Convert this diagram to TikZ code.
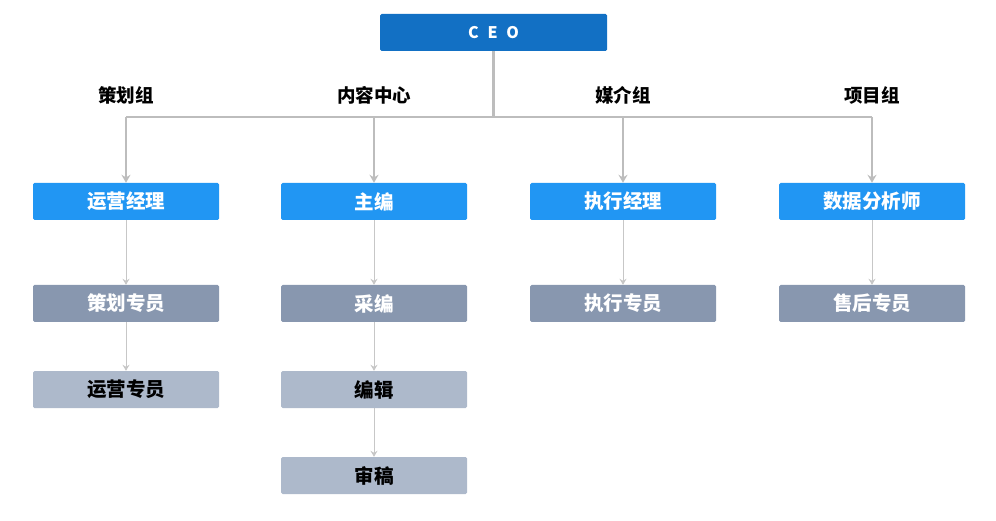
\documentclass[tikz,border=0pt]{standalone}
\usepackage{fontspec}
\setmainfont{Noto Sans CJK SC}
\usetikzlibrary{arrows.meta}
\definecolor{ceoblue}{HTML}{1270C4}
\definecolor{mgrblue}{HTML}{2196F3}
\definecolor{staffgrey}{HTML}{8897AF}
\definecolor{juniorgrey}{HTML}{ADB9CB}
\definecolor{linegrey}{HTML}{BDBDBD}

\begin{document}
\begin{tikzpicture}[x=1pt, y=-1pt,
    box/.style={minimum width=186pt, minimum height=37pt, inner sep=0pt, rounded corners=1.5pt, font=\bfseries\fontsize{19.5}{19.5}\selectfont},
    mgr/.style={box, fill=mgrblue, text=white},
    staff/.style={box, fill=staffgrey, text=white},
    junior/.style={box, fill=juniorgrey, text=black},
    grp/.style={font=\bfseries\fontsize{18.5}{18.5}\selectfont},
    bus/.style={draw=linegrey, line width=2.5pt},
    link/.style={draw=linegrey!85, line width=1pt, -{Stealth[length=6pt,width=7pt]}}]
                \useasboundingbox (0,0) rectangle (996,521);
                \node[box, minimum width=227pt, fill=ceoblue, text=white, font=\bfseries\fontsize{16}{16}\selectfont] (CEO) at (493.5,32.5) {C\hspace{0.55em}E\hspace{0.55em}O};
                \coordinate (T) at (493.5,117);
                \draw[bus] (CEO.south) -- (T);
                % groups and their managers
                \foreach \i/\x/\g/\m in {1/126/策划组/运营经理, 2/374/内容中心/主编, 3/623/媒介组/执行经理, 4/872/项目组/数据分析师} {
                    \node[grp] (G\i) at (\x,95) {\g};
                    \coordinate (B\i) at (\x,117);
                    \node[mgr] (M\i) at (\x,201.5) {\m};
                    \draw[bus, -{Stealth[length=8pt,width=9pt]}, line width=2pt] (B\i) -- (M\i.north);
                }
                \draw[bus] (B1) -- (B4);
                % staff
                \node[staff] (S1) at (126,303.5) {策划专员};
                \node[junior] (J1) at (126,389.5) {运营专员};
                \node[staff] (S2) at (374,303.5) {采编};
                \node[junior] (J2) at (374,389.5) {编辑};
                \node[junior] (K2) at (374,475.5) {审稿};
                \node[staff] (S3) at (623,303.5) {执行专员};
                \node[staff] (S4) at (872,303.5) {售后专员};
                \foreach \a/\b in {M1/S1, S1/J1, M2/S2, S2/J2, J2/K2, M3/S3, M4/S4} {
                    \draw[link] (\a) -- (\b);
                }
            \end{tikzpicture}
\end{document}
